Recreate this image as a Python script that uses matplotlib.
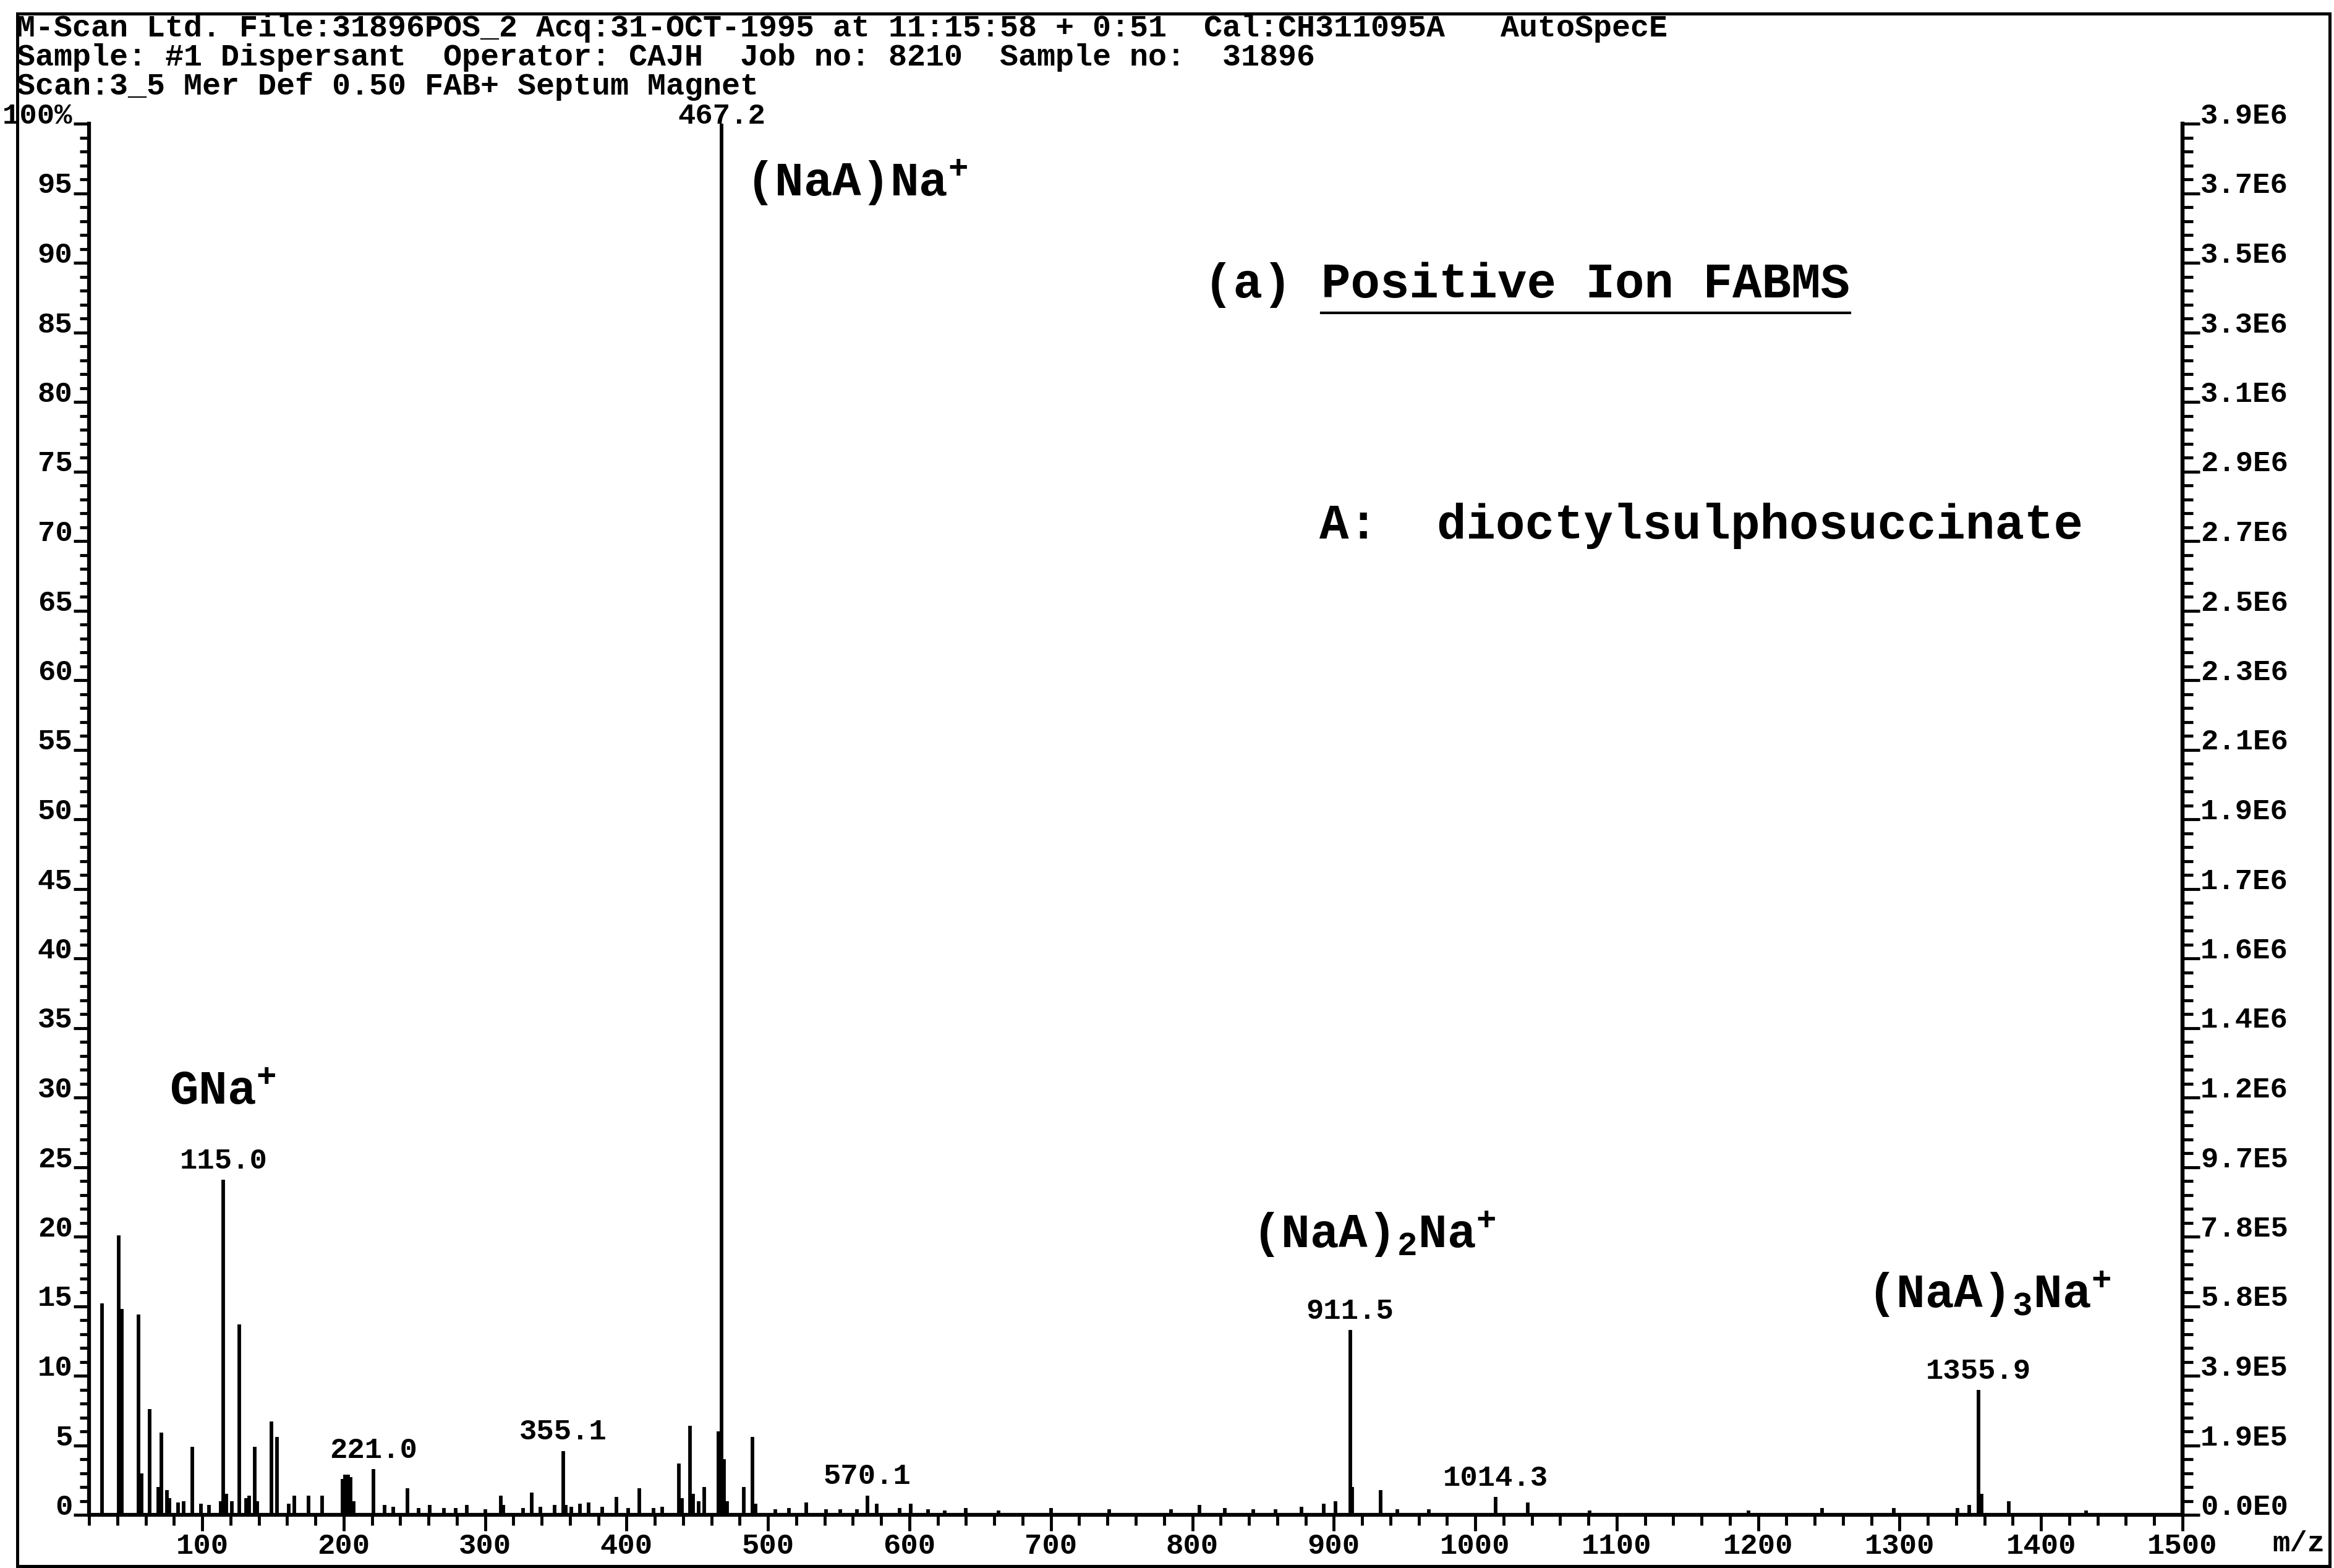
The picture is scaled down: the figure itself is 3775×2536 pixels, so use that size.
import matplotlib
matplotlib.use("Agg")
import matplotlib.pyplot as plt
from matplotlib.ticker import MultipleLocator
from matplotlib.patches import Rectangle
from matplotlib.lines import Line2D

plt.rcParams["font.family"] = ["Liberation Mono", "DejaVu Sans Mono"]
plt.rcParams["font.weight"] = "bold"
plt.rcParams["mathtext.fontset"] = "custom"
plt.rcParams["mathtext.rm"] = "Liberation Mono:bold"
plt.rcParams["mathtext.it"] = "Liberation Mono:bold"
plt.rcParams["mathtext.bf"] = "Liberation Mono:bold"

# header printed by the instrument
header_lines = [
    "M-Scan Ltd. File:31896POS_2 Acq:31-OCT-1995 at 11:15:58 + 0:51  Cal:CH311095A   AutoSpecE",
    "Sample: #1 Dispersant  Operator: CAJH  Job no: 8210  Sample no:  31896",
    "Scan:3_5 Mer Def 0.50 FAB+ Septum Magnet",
]

# spectrum (m/z, relative intensity %)
mz = [29, 41, 43, 55, 57, 63, 69, 71, 75, 77, 83, 87, 93, 99, 105, 113, 115.0, 117,
      121, 126, 131, 133, 137, 139, 149, 153, 161, 165, 175, 185, 199, 201, 203, 205,
      207, 221.0, 229, 235, 245, 253, 261, 271, 279, 287, 300, 311, 313, 327, 333,
      339, 349, 355.1, 357, 361, 367, 373, 383, 393, 401, 409, 419, 425, 437, 439,
      445, 447, 451, 455, 465, 467.2, 469, 471, 483, 489, 491, 505, 515, 527, 541,
      551, 563, 570.1, 577, 593, 601, 613, 625, 640, 663, 700, 741, 785, 805, 823,
      843, 859, 877, 893, 901, 911.5, 913, 933, 945, 967, 1014.3, 1037, 1081, 1193,
      1245, 1296, 1341, 1349, 1355.9, 1358, 1377, 1432]
intensity = [15.2, 20.1, 14.8, 14.4, 3.0, 7.6, 2.0, 5.9, 1.8, 1.2, 0.9, 1.0, 4.9, 0.8,
             0.7, 1.0, 24.1, 1.5, 1.0, 13.7, 1.2, 1.4, 4.9, 1.0, 6.7, 5.6, 0.8, 1.4,
             1.4, 1.4, 2.6, 2.9, 2.9, 2.7, 1.0, 3.3, 0.7, 0.6, 1.9, 0.5, 0.7, 0.5, 0.5,
             0.7, 0.4, 1.4, 0.7, 0.5, 1.6, 0.6, 0.7, 4.6, 0.7, 0.6, 0.8, 0.9, 0.6, 1.3,
             0.5, 1.9, 0.5, 0.6, 3.7, 1.2, 6.4, 1.5, 1.0, 2.0, 6.0, 100.0, 4.0, 1.0,
             2.0, 5.6, 0.8, 0.4, 0.5, 0.9, 0.4, 0.4, 0.4, 1.4, 0.8, 0.5, 0.8, 0.4, 0.3,
             0.5, 0.3, 0.5, 0.4, 0.4, 0.7, 0.5, 0.4, 0.4, 0.6, 0.8, 1.0, 13.3, 2.0, 1.8,
             0.4, 0.4, 1.3, 0.9, 0.3, 0.3, 0.5, 0.5, 0.5, 0.7, 9.0, 1.5, 1.0, 0.3]

# peaks carrying an m/z label
labelled_mz = [115.0, 221.0, 355.1, 467.2, 570.1, 911.5, 1014.3, 1355.9]
labelled_text = ["115.0", "221.0", "355.1", "467.2", "570.1", "911.5", "1014.3", "1355.9"]

# ion assignments
ion_text = ["GNa$^{\\mathrm{+}}$", "(NaA)Na$^{\\mathrm{+}}$",
            "(NaA)$_{\\mathrm{2}}$Na$^{\\mathrm{+}}$", "(NaA)$_{\\mathrm{3}}$Na$^{\\mathrm{+}}$"]
ion_x = [77, 484, 842, 1277]
ion_y = [29.5, 94.8, 19.2, 14.9]

left_ticks = list(range(0, 101, 5))
left_labels = [str(v) for v in left_ticks[:-1]] + ["100%"]
right_labels = ["0.0E0", "1.9E5", "3.9E5", "5.8E5", "7.8E5", "9.7E5", "1.2E6", "1.4E6",
                "1.6E6", "1.7E6", "1.9E6", "2.1E6", "2.3E6", "2.5E6", "2.7E6", "2.9E6",
                "3.1E6", "3.3E6", "3.5E6", "3.7E6", "3.9E6"]

W, H = 3775, 2536
fig = plt.figure(figsize=(W / 100, H / 100), dpi=100)
ax = fig.add_axes([144 / W, 86 / H, (3530 - 144) / W, 2250 / H])

ax.vlines(mz, 0, intensity, color="black", linewidth=4.2)
ax.set_xlim(20, 1500)
ax.set_ylim(0, 100)

for side in ["left", "bottom", "right"]:
    ax.spines[side].set_linewidth(4.5)
ax.spines["top"].set_visible(False)

ax.xaxis.set_major_locator(MultipleLocator(100))
ax.xaxis.set_minor_locator(MultipleLocator(20))
ax.tick_params(axis="x", which="major", length=19, width=3.5, labelsize=34, pad=2)
ax.tick_params(axis="x", which="minor", length=12, width=3.5)

ax.set_yticks(left_ticks)
ax.set_yticklabels(left_labels, va="baseline")
ax.yaxis.set_minor_locator(MultipleLocator(1))
ax.tick_params(axis="y", which="major", length=18, width=3.5, labelsize=34, pad=1)
ax.tick_params(axis="y", which="minor", length=11, width=3.5)

ax2 = ax.twinx()
ax2.set_ylim(0, 100)
ax2.set_yticks(left_ticks)
ax2.set_yticklabels(right_labels, va="baseline")
ax2.yaxis.set_minor_locator(MultipleLocator(1))
ax2.tick_params(axis="y", which="major", length=20, width=3.5, labelsize=34, pad=1)
ax2.tick_params(axis="y", which="minor", length=12, width=3.5)
for side in ["left", "bottom", "top"]:
    ax2.spines[side].set_visible(False)
ax2.spines["right"].set_linewidth(4.5)

fig.text(3718 / W, 1 - 2497 / H, "m/z", fontsize=34, ha="center", va="center")

# m/z labels over peaks
for m, txt in zip(labelled_mz, labelled_text):
    h = intensity[mz.index(m)]
    off = 0.0 if h >= 99 else 0.8
    ax.text(m, h + off, txt, fontsize=34, ha="center", va="baseline", clip_on=False)

for x, y, txt in zip(ion_x, ion_y, ion_text):
    ax.text(x, y, txt, fontsize=56, ha="left", va="baseline")

title = ax.text(808, 87.5, "(a) Positive Ion FABMS", fontsize=57, ha="left", va="baseline")
ax.text(890, 70.2, "A:  dioctylsulphosuccinate", fontsize=57, ha="left", va="baseline")

for i, line in enumerate(header_lines):
    fig.text(27 / W, 1 - (46 + 47 * i) / H, line, fontsize=36, ha="left", va="center")

# outer frame
fig.add_artist(Rectangle((28 / W, 3 / H), (3768 - 28) / W, (2514 - 3) / H,
                         transform=fig.transFigure, fill=False, linewidth=3.6,
                         edgecolor="black"))

# underline "Positive Ion FABMS"
fig.canvas.draw()
bb = title.get_window_extent()
n = len(title.get_text())
x0 = bb.x0 + (bb.x1 - bb.x0) * 4 / n
yl = bb.y0 - 8
fig.add_artist(Line2D([x0 / W, bb.x1 / W], [yl / H, yl / H],
                      transform=fig.transFigure, color="black", linewidth=3))

fig.savefig("out.png", dpi=100)
